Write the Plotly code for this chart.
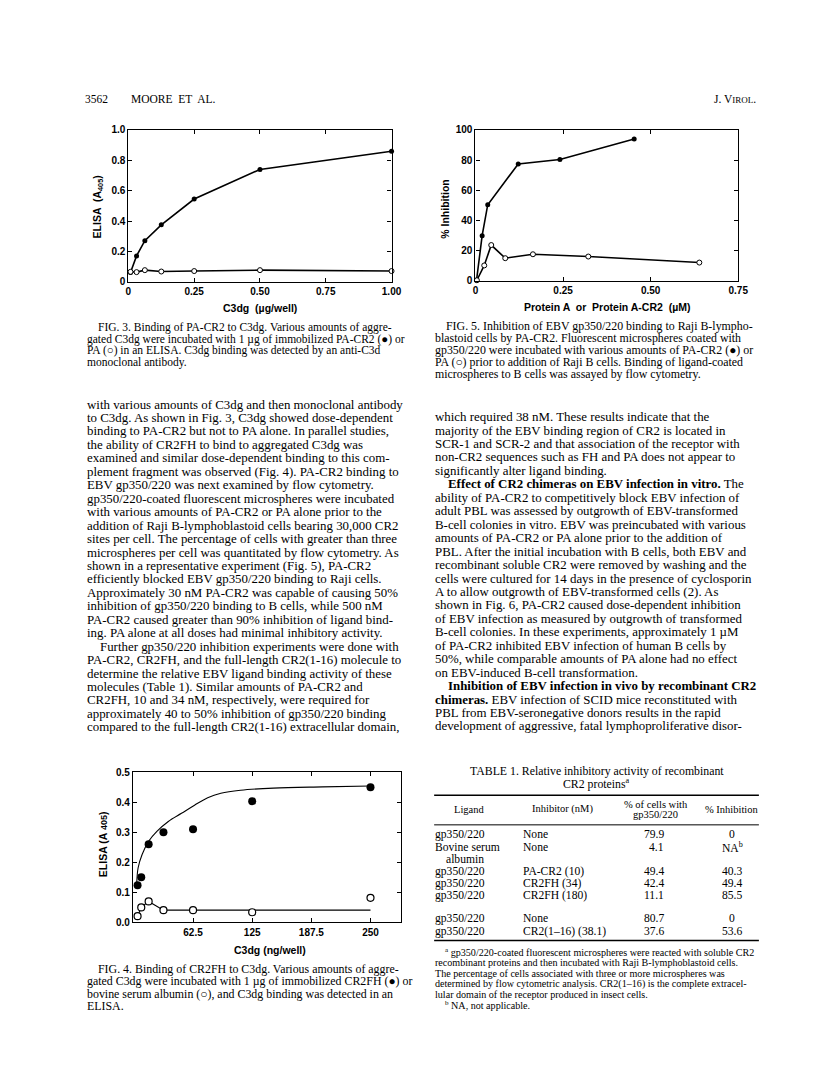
import plotly.graph_objects as go

W, H = 816, 1076

# ---- data ----
# Fig. 3  binding of PA-CR2 to C3dg
fig3_c3dg = [0.008, 0.031, 0.0625, 0.125, 0.25, 0.5, 1.0]
fig3_pacr2 = [0.06, 0.17, 0.27, 0.375, 0.545, 0.74, 0.86]
fig3_pa = [0.065, 0.063, 0.076, 0.067, 0.07, 0.076, 0.07]

# Fig. 5  % inhibition
fig5_pacr2_x = [0.003, 0.019, 0.035, 0.122, 0.241, 0.453]
fig5_pacr2_y = [0.5, 30, 50.5, 77.5, 80.5, 94]
fig5_pa_x = [0.004, 0.025, 0.045, 0.085, 0.164, 0.322, 0.639]
fig5_pa_y = [0.5, 10.3, 23.8, 15.1, 17.7, 16.2, 12.2]

# Fig. 4  binding of CR2FH to C3dg
fig4_c3dg = [3.9, 7.8, 15.6, 31.25, 62.5, 125, 250]
fig4_cr2fh = [0.124, 0.150, 0.26, 0.30, 0.31, 0.403, 0.45]
fig4_bsa = [0.021, 0.050, 0.070, 0.041, 0.041, 0.034, 0.082]
# fitted lines as drawn on the figure
fig4_fit_x = [3.0, 4.5, 8.7, 15.6, 24.3, 36.4, 50.3, 64.1, 78, 91.9, 112.7, 147.4, 199.4, 250]
fig4_fit_y = [0.13, 0.182, 0.226, 0.27, 0.303, 0.336, 0.363, 0.39, 0.415, 0.43, 0.44, 0.447, 0.451, 0.454]
fig4_bsa_fit_x = [3.9, 7.8, 15.6, 31.25, 250]
fig4_bsa_fit_y = [0.021, 0.050, 0.070, 0.041, 0.041]

# Table 1
tab_ligand = ["gp350/220", "Bovine serum", "gp350/220", "gp350/220", "gp350/220", "gp350/220", "gp350/220"]
tab_inhib = ["None", "None", "PA-CR2 (10)", "CR2FH (34)", "CR2FH (180)", "None", "CR2(1\u201316) (38.1)"]
tab_cells = ["79.9", "4.1", "49.4", "42.4", "11.1", "80.7", "37.6"]
tab_pct = ["0", "NA<sup>b</sup>", "40.3", "49.4", "85.5", "0", "53.6"]
tab_row_y = [830, 842.5, 867, 879, 891, 915, 928]


def px(x):
    return x / W


def py(y):
    return 1 - y / H


SERIF = "Liberation Serif"
SANS = "Liberation Sans"
BLACK = "black"

fig = go.Figure()

filled = dict(symbol="circle", size=5, color=BLACK)
hollow = dict(symbol="circle", size=5, color="white", line=dict(color=BLACK, width=1))

fig.add_trace(go.Scatter(x=fig3_c3dg, y=fig3_pacr2, mode="lines+markers", marker=filled,
                         line=dict(color=BLACK, width=1.6), xaxis="x", yaxis="y", cliponaxis=False))
fig.add_trace(go.Scatter(x=fig3_c3dg, y=fig3_pa, mode="lines+markers", marker=hollow,
                         line=dict(color=BLACK, width=1.6), xaxis="x", yaxis="y", cliponaxis=False))

fig.add_trace(go.Scatter(x=fig5_pacr2_x, y=fig5_pacr2_y, mode="lines+markers", marker=filled,
                         line=dict(color=BLACK, width=1.6), xaxis="x2", yaxis="y2", cliponaxis=False))
fig.add_trace(go.Scatter(x=fig5_pa_x, y=fig5_pa_y, mode="lines+markers", marker=hollow,
                         line=dict(color=BLACK, width=1.6), xaxis="x2", yaxis="y2", cliponaxis=False))

fig.add_trace(go.Scatter(x=fig4_fit_x, y=fig4_fit_y, mode="lines", line=dict(color=BLACK, width=1.1, shape="spline"),
                         xaxis="x3", yaxis="y3"))
fig.add_trace(go.Scatter(x=fig4_bsa_fit_x, y=fig4_bsa_fit_y, mode="lines", line=dict(color=BLACK, width=1.1),
                         xaxis="x3", yaxis="y3"))
fig.add_trace(go.Scatter(x=fig4_c3dg, y=fig4_cr2fh, mode="markers",
                         marker=dict(symbol="circle", size=8, color=BLACK), xaxis="x3", yaxis="y3", cliponaxis=False))
fig.add_trace(go.Scatter(x=fig4_c3dg, y=fig4_bsa, mode="markers",
                         marker=dict(symbol="circle", size=7, color="white", line=dict(color=BLACK, width=1.2)),
                         xaxis="x3", yaxis="y3", cliponaxis=False))

tickfont = dict(family=SANS, size=10, color=BLACK, weight="bold")
ax_common = dict(showline=True, linecolor=BLACK, linewidth=1.2, mirror="ticks", ticks="inside", ticklen=4,
                 tickcolor=BLACK, showgrid=False, zeroline=False, tickfont=tickfont, fixedrange=True)

fig.update_layout(
    width=W, height=H, margin=dict(l=0, r=0, t=0, b=0),
    paper_bgcolor="white", plot_bgcolor="white", showlegend=False,
    xaxis=dict(domain=[px(119.3), px(386.7)], range=[0, 1], anchor="y",
               tickvals=[0, 0.25, 0.5, 0.75, 1.0], ticktext=["0", "0.25", "0.50", "0.75", "1.00"], **ax_common),
    yaxis=dict(domain=[py(270.7), py(117.3)], range=[0, 1], anchor="x",
               tickvals=[0, 0.2, 0.4, 0.6, 0.8, 1.0], ticktext=["0", "0.2", "0.4", "0.6", "0.8", "1.0"], **ax_common),
    xaxis2=dict(domain=[px(472), px(739)], range=[0, 0.75], anchor="y2",
                tickvals=[0, 0.25, 0.5, 0.75], ticktext=["0", "0.25", "0.50", "0.75"], **ax_common),
    yaxis2=dict(domain=[py(270), py(117.3)], range=[0, 100], anchor="x2",
                tickvals=[0, 20, 40, 60, 80, 100], **ax_common),
    xaxis3=dict(domain=[px(124), px(396)], range=[-0.9, 281.9], anchor="y3",
                tickvals=[62.5, 125, 187.5, 250], ticktext=["62.5", "125", "187.5", "250"], **ax_common),
    yaxis3=dict(domain=[py(918.7), py(766.7)], range=[0, 0.5], anchor="x3",
                tickvals=[0, 0.1, 0.2, 0.3, 0.4, 0.5], ticktext=["0.0", "0.1", "0.2", "0.3", "0.4", "0.5"], **ax_common),
)

ann = []


def text(x, y, s, size=12, family=SERIF, anchor="left", angle=0, weight="normal"):
    ann.append(dict(x=px(x), y=py(y), xref="paper", yref="paper", text=s, showarrow=False,
                    xanchor=anchor, yanchor="middle", textangle=angle, borderpad=0,
                    font=dict(family=family, size=size, color=BLACK, weight=weight)))


def block(x, y0, step, lines, size, indent=11):
    for i, s in enumerate(lines):
        xx = x
        if s.startswith(">"):
            s = s[1:]
            xx = x + indent
        text(xx, y0 + i * step, s, size=size)


# axis titles
text(88, 195, "ELISA  (A<sub>405</sub>)", size=10.5, family=SANS, anchor="center", angle=-90, weight="bold")
text(253, 297, "C3dg  (\u00b5g/well)", size=10.5, family=SANS, anchor="center", weight="bold")
text(441, 197, "% Inhibition", size=10.5, family=SANS, anchor="center", angle=-90, weight="bold")
text(606, 296, "Protein A  or  Protein A-CR2  (\u00b5M)", size=10.5, family=SANS, anchor="center", weight="bold")
text(93, 840, "ELISA (A <span style='font-size:9px'>405</span>)", size=10.5, family=SANS, anchor="center", angle=-90, weight="bold")
text(263, 947, "C3dg (ng/well)", size=10.5, family=SANS, anchor="center", weight="bold")

# running head
text(74, 86, "3562", size=11.5)
text(121, 86, "MOORE  ET  AL.", size=11.5)
text(758, 86, "J. V<span style='font-size:9px'>IROL</span>.", size=11.5, anchor="right")

block(76, 317, 11.7, [
    ">FIG. 3. Binding of PA-CR2 to C3dg. Various amounts of aggre-",
    "gated C3dg were incubated with 1 \u00b5g of immobilized PA-CR2 (\u25cf) or",
    "PA (\u25cb) in an ELISA. C3dg binding was detected by an anti-C3d",
    "monoclonal antibody.",
], 11.5)

block(430, 315.5, 12.2, [
    ">FIG. 5. Inhibition of EBV gp350/220 binding to Raji B-lympho-",
    "blastoid cells by PA-CR2. Fluorescent microspheres coated with",
    "gp350/220 were incubated with various amounts of PA-CR2 (\u25cf) or",
    "PA (\u25cb) prior to addition of Raji B cells. Binding of ligand-coated",
    "microspheres to B cells was assayed by flow cytometry.",
], 11.9)

block(76, 395, 13.6, [
    "with various amounts of C3dg and then monoclonal antibody",
    "to C3dg. As shown in Fig. 3, C3dg showed dose-dependent",
    "binding to PA-CR2 but not to PA alone. In parallel studies,",
    "the ability of CR2FH to bind to aggregated C3dg was",
    "examined and similar dose-dependent binding to this com-",
    "plement fragment was observed (Fig. 4). PA-CR2 binding to",
    "EBV gp350/220 was next examined by flow cytometry.",
    "gp350/220-coated fluorescent microspheres were incubated",
    "with various amounts of PA-CR2 or PA alone prior to the",
    "addition of Raji B-lymphoblastoid cells bearing 30,000 CR2",
    "sites per cell. The percentage of cells with greater than three",
    "microspheres per cell was quantitated by flow cytometry. As",
    "shown in a representative experiment (Fig. 5), PA-CR2",
    "efficiently blocked EBV gp350/220 binding to Raji cells.",
    "Approximately 30 nM PA-CR2 was capable of causing 50%",
    "inhibition of gp350/220 binding to B cells, while 500 nM",
    "PA-CR2 caused greater than 90% inhibition of ligand bind-",
    "ing. PA alone at all doses had minimal inhibitory activity.",
    ">Further gp350/220 inhibition experiments were done with",
    "PA-CR2, CR2FH, and the full-length CR2(1-16) molecule to",
    "determine the relative EBV ligand binding activity of these",
    "molecules (Table 1). Similar amounts of PA-CR2 and",
    "CR2FH, 10 and 34 nM, respectively, were required for",
    "approximately 40 to 50% inhibition of gp350/220 binding",
    "compared to the full-length CR2(1-16) extracellular domain,",
], 12.9, indent=13)

block(430, 407.7, 13.6, [
    "which required 38 nM. These results indicate that the",
    "majority of the EBV binding region of CR2 is located in",
    "SCR-1 and SCR-2 and that association of the receptor with",
    "non-CR2 sequences such as FH and PA does not appear to",
    "significantly alter ligand binding.",
    "><b>Effect of CR2 chimeras on EBV infection in vitro.</b> The",
    "ability of PA-CR2 to competitively block EBV infection of",
    "adult PBL was assessed by outgrowth of EBV-transformed",
    "B-cell colonies in vitro. EBV was preincubated with various",
    "amounts of PA-CR2 or PA alone prior to the addition of",
    "PBL. After the initial incubation with B cells, both EBV and",
    "recombinant soluble CR2 were removed by washing and the",
    "cells were cultured for 14 days in the presence of cyclosporin",
    "A to allow outgrowth of EBV-transformed cells (2). As",
    "shown in Fig. 6, PA-CR2 caused dose-dependent inhibition",
    "of EBV infection as measured by outgrowth of transformed",
    "B-cell colonies. In these experiments, approximately 1 \u00b5M",
    "of PA-CR2 inhibited EBV infection of human B cells by",
    "50%, while comparable amounts of PA alone had no effect",
    "on EBV-induced B-cell transformation.",
    "><b>Inhibition of EBV infection in vivo by recombinant CR2</b>",
    "<b>chimeras.</b> EBV infection of SCID mice reconstituted with",
    "PBL from EBV-seronegative donors results in the rapid",
    "development of aggressive, fatal lymphoproliferative disor-",
], 12.9, indent=13)

block(76, 966, 12.4, [
    ">FIG. 4. Binding of CR2FH to C3dg. Various amounts of aggre-",
    "gated C3dg were incubated with 1 \u00b5g of immobilized CR2FH (\u25cf) or",
    "bovine serum albumin (\u25cb), and C3dg binding was detected in an",
    "ELISA.",
], 11.9)

# Table 1
text(595, 765.5, "TABLE 1. Relative inhibitory activity of recombinant", size=11.8, anchor="center")
text(595, 778.5, "CR2 proteins<sup>a</sup>", size=11.8, anchor="center")
text(465, 804, "Ligand", size=10.5, anchor="center")
text(560, 804, "Inhibitor (nM)", size=10.5, anchor="center")
text(655, 799, "% of cells with", size=10.5, anchor="center")
text(655, 810, "gp350/220", size=10.5, anchor="center")
text(733, 804, "% Inhibition", size=10.5, anchor="center")
for lig, inh, cel, pct, yy in zip(tab_ligand, tab_inhib, tab_cells, tab_pct, tab_row_y):
    text(430, yy, lig, size=11.6)
    text(519, yy, inh, size=11.6)
    text(665, yy, cel, size=11.6, anchor="right")
    text(733, yy, pct, size=11.6, anchor="center")
text(441, 855.5, "albumin", size=11.6)

block(430, 949, 10.6, [
    "><sup>a</sup> gp350/220-coated fluorescent microspheres were reacted with soluble CR2",
    "recombinant proteins and then incubated with Raji B-lymphoblastoid cells.",
    "The percentage of cells associated with three or more microspheres was",
    "determined by flow cytometric analysis. CR2(1\u201316) is the complete extracel-",
    "lular domain of the receptor produced in insect cells.",
    "><sup>b</sup> NA, not applicable.",
], 10.1, indent=10)

shapes = []
for yy, wd in [(790, 1.6), (820, 1.0), (937, 1.4)]:
    shapes.append(dict(type="line", xref="paper", yref="paper", x0=px(430), x1=px(760),
                       y0=py(yy), y1=py(yy), line=dict(color=BLACK, width=wd)))

fig.update_layout(annotations=ann, shapes=shapes)

fig.write_html("out.html")
